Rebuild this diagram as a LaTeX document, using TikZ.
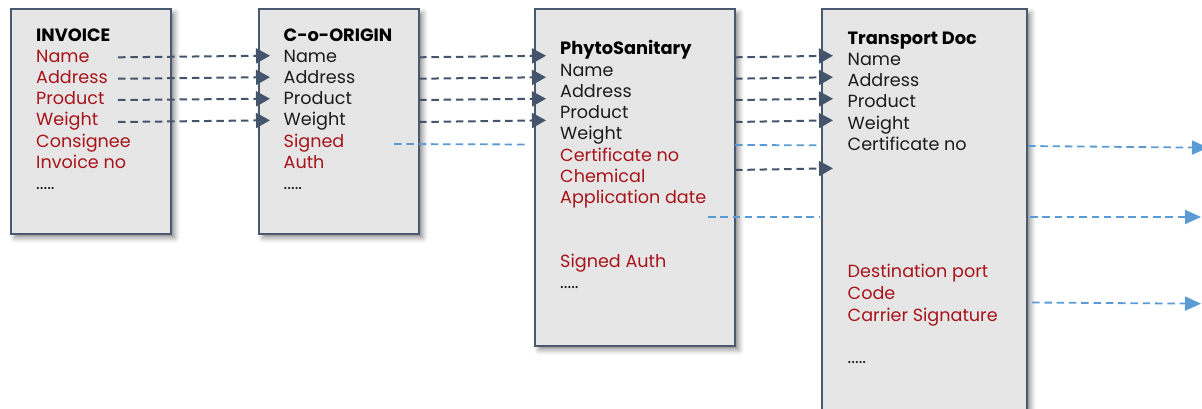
\documentclass[tikz,border=0pt]{standalone}
\usepackage{fontspec}
\setmainfont{Poppins}
\usetikzlibrary{arrows.meta,shadows.blur}
\definecolor{boxfill}{HTML}{E7E6E6}
\definecolor{boxline}{HTML}{4A5870}
\definecolor{fieldred}{HTML}{A8141B}
\definecolor{plaintext}{HTML}{1C1C1C}
\definecolor{linkdark}{HTML}{44546A}
\definecolor{linkblue}{HTML}{5B9BD5}
\newcommand\moredots{.....}
\begin{document}
\begin{tikzpicture}[x=1pt,y=-1pt,
  docbox/.style={draw=boxline, line width=1.8pt, fill=boxfill, inner sep=0pt,
    anchor=north west,
    blur shadow={shadow xshift=4pt, shadow yshift=-4pt, shadow blur radius=5pt, shadow opacity=45}},
  txt/.style={anchor=base west, inner sep=0pt, font=\fontsize{17.6}{20}\selectfont},
  title/.style={txt, font=\fontsize{17.8}{20}\selectfont\bfseries, text=black},
  plain/.style={txt, text=plaintext},
  field/.style={txt, text=fieldred},
  flow/.style={draw=linkdark, line width=2pt, dash pattern=on 7.5pt off 4.8pt,
    -{Triangle[length=14pt,width=15pt]}},
  link/.style={draw=linkblue, line width=1.8pt, dash pattern=on 7.5pt off 4.8pt},
  linkout/.style={link, -{Triangle[length=16pt,width=14pt]}}
]
\useasboundingbox (0,0) rectangle (1202,408);

% document boxes
\node[docbox, minimum width=160pt, minimum height=225pt] (invoice) at (10,8) {};
\node[docbox, minimum width=160pt, minimum height=225pt] (origin) at (258,8) {};
\node[docbox, minimum width=200pt, minimum height=337pt] (phyto) at (534,8) {};
\node[docbox, minimum width=205pt, minimum height=420pt] (transport) at (821,8) {};

% field flows between documents
\foreach \k/\ya/\yb in {1/57.3/55.7, 2/78.7/77.2, 3/100/98.7, 4/122/120.3} {
  \coordinate (invout\k) at (118,\ya);
  \coordinate (origin\k) at (270,\yb);
  \draw[flow] (invout\k) -- (origin\k);
  \coordinate (origout\k) at (419,\ya);
  \coordinate (phytoin\k) at (546,\yb);
  \draw[flow] (origout\k) -- (phytoin\k);
  \coordinate (phytoout\k) at (735,\ya);
  \coordinate (transin\k) at (833,\yb);
  \draw[flow] (phytoout\k) -- (transin\k);
}
\coordinate (phytoout5) at (735,170);
\coordinate (transin5) at (833,168.3);
\draw[flow] (phytoout5) -- (transin5);

% signature / certificate links
\coordinate (sigA) at (394,144);
\coordinate (sigB) at (529,144.5);
\draw[link] (sigA) -- (sigB);
\coordinate (certA) at (735,145);
\coordinate (certB) at (820,145.3);
\draw[link] (certA) -- (certB);
\coordinate (dateA) at (708,217);
\coordinate (dateB) at (820,217);
\draw[link] (dateA) -- (dateB);

% outgoing links
\coordinate (outA1) at (1028,146);
\coordinate (outB1) at (1208,147.7);
\draw[linkout] (outA1) -- (outB1);
\coordinate (outA2) at (1030,217);
\coordinate (outB2) at (1201,217);
\draw[linkout] (outA2) -- (outB2);
\coordinate (outA3) at (1032,302.5);
\coordinate (outB3) at (1201,303.7);
\draw[linkout] (outA3) -- (outB3);

% INVOICE fields
\foreach \y/\t/\s [count=\i] in {34.7/INVOICE/title, 55.7/Name/field, 76.7/Address/field,
   98/Product/field, 119/Weight/field, 140.5/Consignee/field, 162/Invoice no/field,
   183.3/\moredots/plain}
  \node[\s] (invtxt\i) at (36,\y+6.5) {\t};

% C-o-ORIGIN fields
\foreach \y/\t/\s [count=\i] in {34.7/C-o-ORIGIN/title, 55.7/Name/plain, 76.7/Address/plain,
   98/Product/plain, 119/Weight/plain, 140.5/Signed/field, 162/Auth/field,
   183.3/\moredots/plain}
  \node[\s] (origtxt\i) at (283.5,\y+6.5) {\t};

% PhytoSanitary fields
\foreach \y/\t/\s [count=\i] in {47.8/PhytoSanitary/title, 69.5/Name/plain, 90.5/Address/plain,
   111.5/Product/plain, 133/Weight/plain, 154.5/Certificate no/field, 175.7/Chemical/field,
   197/Application date/field, 261/Signed Auth/field, 282/\moredots/plain}
  \node[\s] (phytxt\i) at (560,\y+6.5) {\t};

% Transport Doc fields
\foreach \y/\t/\s [count=\i] in {37.5/Transport Doc/title, 58.7/Name/plain, 79.7/Address/plain,
   101/Product/plain, 122.5/Weight/plain, 143.7/Certificate no/plain,
   271/Destination port/field, 293/Code/field, 314.5/Carrier Signature/field,
   356.5/\moredots/plain}
  \node[\s] (trtxt\i) at (847.5,\y+6.5) {\t};
\end{tikzpicture}
\end{document}
